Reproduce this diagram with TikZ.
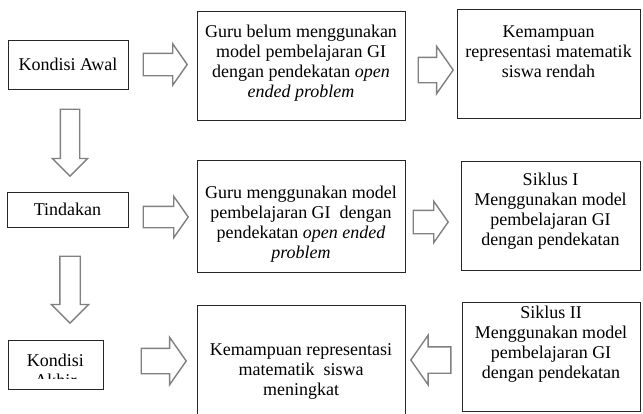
\documentclass[tikz,border=0pt]{standalone}
\usepackage{fontspec}
\setmainfont{Liberation Serif}
\usetikzlibrary{calc}
\usetikzlibrary{positioning}
\usetikzlibrary{shapes.arrows}

\tikzset{
  box/.style={draw=black!85, line width=1pt, inner sep=0pt},
  blk/.style={single arrow, draw=black!50, line width=1.4pt, fill=white,
    anchor=tail},
  harrow/.style n args={3}{blk, minimum height=#1, inner xsep=0pt, inner ysep=#2,
    single arrow head extend=#3, single arrow tip angle=110},
  varrow/.style n args={3}{blk, minimum height=#1, inner ysep=0pt, inner xsep=#2,
    single arrow head extend=#3, single arrow tip angle=90,
    shape border rotate=270},
}
\newcommand{\boxtxt}[4]{\parbox[c][#1][t]{#2}{\centering\vspace*{#3}\strut #4\par}}

\begin{document}
\begin{tikzpicture}[x=1pt, y=-1pt,
  every node/.style={font=\fontsize{18}{20}\selectfont}]
  \useasboundingbox (0,0) rectangle (643,413);

  % left column
  \node [box, minimum width=120pt, minimum height=49pt] (awal) at (68,64.5) {Kondisi Awal};
  \node [box, minimum width=121pt, minimum height=35pt] (tindakan) at (67.5,209.5) {Tindakan};
  \node [box, minimum width=95pt, minimum height=49pt] (akhir) at (55.5,364.5) {};
  \begin{scope}
    \clip (akhir.north west) rectangle ($(akhir.east)+(0,14)$);
    \node [anchor=north, inner sep=0pt, align=center] (akhirtxt) at ($(akhir.north)+(0,13)$) {\strut Kondisi\\\strut Akhir};
  \end{scope}

  % middle column
  \node [box] (guru1) at (301,65.5) {\boxtxt{109pt}{208pt}{12pt}{Guru belum menggunakan\\model pembelajaran GI\\dengan pendekatan \textit{open}\\\textit{ended problem}}};
  \node [box] (guru2) at (301,216) {\boxtxt{112pt}{208pt}{24pt}{Guru menggunakan model\\pembelajaran GI~ dengan\\pendekatan \textit{open ended}\\\textit{problem}}};
  \node [box] (kem2) at (301,367.5) {\boxtxt{125pt}{208pt}{36pt}{Kemampuan representasi\\matematik~ siswa\\meningkat}};

  % right column
  \node [box] (kem1) at (548.5,63.5) {\boxtxt{109pt}{183pt}{14pt}{Kemampuan\\representasi matematik\\siswa rendah}};
  \node [box] (siklus1) at (550.5,215.5) {\boxtxt{109pt}{179pt}{10pt}{Siklus I\\Menggunakan model\\pembelajaran GI\\dengan pendekatan}};
  \node [box] (siklus2) at (551,356.5) {\boxtxt{109pt}{178pt}{2pt}{Siklus II\\Menggunakan model\\pembelajaran GI\\dengan pendekatan}};

  % block arrows
  \node [harrow={44pt}{10.5pt}{9.5pt}] (a1) at ($(awal.east)+(14,0)$) {};
  \node [harrow={35pt}{12pt}{11pt}] (a2) at ($(guru1.east)+(12,4.5)$) {};
  \node [harrow={45pt}{10pt}{10pt}] (a3) at ($(tindakan.east)+(14,7.5)$) {};
  \node [harrow={35pt}{11pt}{9pt}] (a4) at ($(guru2.east)+(7,6)$) {};
  \node [harrow={45pt}{12pt}{11pt}] (a5) at ($(akhir.east)+(37,-3.5)$) {};
  \node [harrow={40pt}{12.5pt}{11.5pt}, shape border rotate=180] (a6) at ($(siklus2.west)+(-10,3.5)$) {};
  \node [varrow={67pt}{9pt}{8pt}] (d1) at ($(awal.south)+(2,19)$) {};
  \node [varrow={67pt}{9.5pt}{8.5pt}] (d2) at ($(tindakan.south)+(2.5,28)$) {};
\end{tikzpicture}
\end{document}
